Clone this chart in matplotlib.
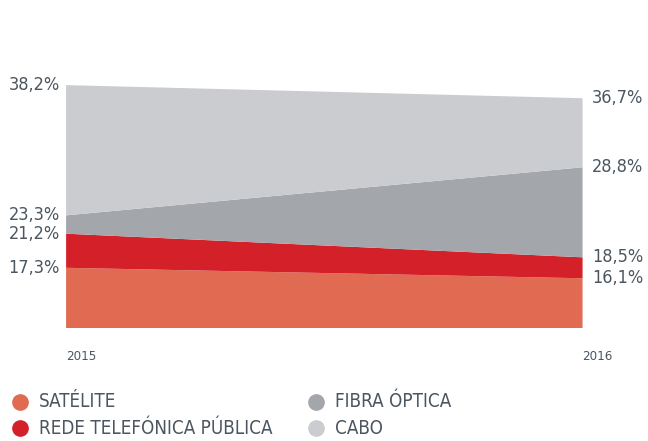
import numpy as np
import matplotlib
matplotlib.use("Agg")
import matplotlib.pyplot as plt
from matplotlib.lines import Line2D

plt.rcParams['font.family'] = ['DejaVu Sans']
plt.rcParams['font.stretch'] = 'condensed'

# market share by access type (%), 2015 and 2016
years = ['2015', '2016']
satelite = [17.3, 16.1]
rede_telefonica = [3.9, 2.4]
fibra_optica = [2.1, 10.3]
cabo = [14.9, 7.9]

names = ['SATÉLITE', 'REDE TELEFÓNICA PÚBLICA', 'FIBRA ÓPTICA', 'CABO']
colors = ['#E06B52', '#D42029', '#A3A6AA', '#CBCCD0']
txt = '#4B5660'

series = np.array([satelite, rede_telefonica, fibra_optica, cabo])
cum = np.cumsum(series, axis=0)
x = np.arange(len(years))

fig = plt.figure(figsize=(6.48, 4.41), dpi=100)
ax = fig.add_axes([0.102, 0.256, 0.797, 0.551])
ax.stackplot(x, series, colors=colors, linewidth=0)
ax.set_xlim(0, 1)
ax.set_ylim(10.4, 38.2)
ax.axis('off')

def fmt(v):
    return ('%.1f%%' % v).replace('.', ',')

for v in cum[:, 0]:
    ax.text(-0.012, v, fmt(v), ha='right', va='center', fontsize=13, color=txt)
for v in cum[:, 1]:
    ax.text(1.018, v, fmt(v), ha='left', va='center', fontsize=13, color=txt)

ax.text(0, 7.2, years[0], ha='left', va='center', fontsize=9.5, color=txt,
        clip_on=False)
ax.text(1.0, 7.2, years[1], ha='left', va='center', fontsize=9.5, color=txt,
        clip_on=False)

# legend in two columns below the plot
pos = [(0.031, 0.089), (0.031, 0.029), (0.488, 0.089), (0.488, 0.029)]
for (px, py), name, c in zip(pos, names, colors):
    fig.add_artist(Line2D([px], [py], marker='o', linestyle='none', markersize=11,
                          markerfacecolor=c, markeredgecolor=c,
                          transform=fig.transFigure))
    fig.text(px + 0.029, py, name, ha='left', va='center', fontsize=13.5, color=txt)

fig.savefig('out.png', dpi=100)
